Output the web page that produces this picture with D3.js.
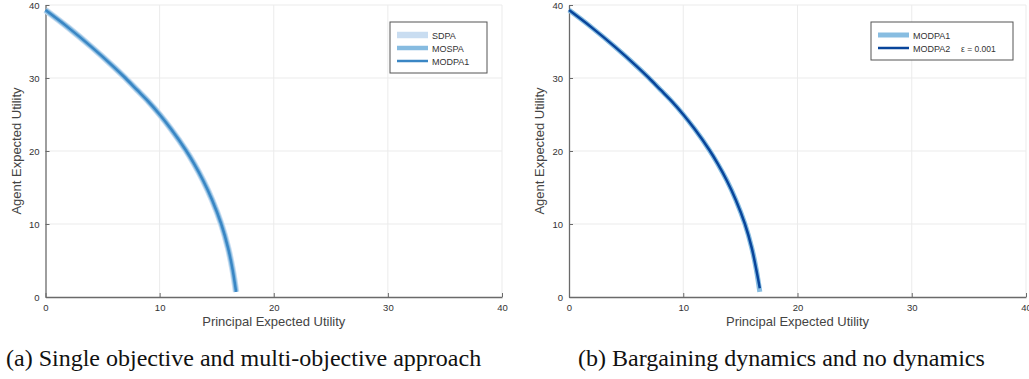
<!DOCTYPE html>
<html>
<head>
<meta charset="utf-8">
<script src="https://cdn.jsdelivr.net/npm/d3@7"></script>
<style>
  body { margin: 0; background: #fff; }
</style>
</head>
<body>
<script>
// curve (principal utility, agent utility)
const curveX = [0, 2, 4, 6, 7, 8, 9, 10, 11, 12.3, 13, 13.8, 14.6, 15.4, 16.0, 16.4, 16.7];
const sdpaY = [39.3, 36.9, 34.3, 31.5, 30.0, 28.4, 26.8, 25.0, 23.0, 20.1, 18.3, 16.0, 13.3, 10.0, 6.7, 3.7, 0.7];
const mospaY = [39.3, 36.9, 34.3, 31.5, 30.0, 28.4, 26.8, 25.0, 23.0, 20.1, 18.3, 16.0, 13.3, 10.0, 6.7, 3.7, 0.7];
const modpa1Y = [39.3, 36.9, 34.3, 31.5, 30.0, 28.4, 26.8, 25.0, 23.0, 20.1, 18.3, 16.0, 13.3, 10.0, 6.7, 3.7, 0.7];
const modpa2Y = [39.3, 36.9, 34.3, 31.5, 30.0, 28.4, 26.8, 25.0, 23.0, 20.1, 18.3, 16.0, 13.3, 10.0, 6.7, 3.7, 1.2];
const tickValues = [0, 10, 20, 30, 40];

const width = 1029;
const height = 379;
const font = "'Liberation Sans', Arial, sans-serif";

const svg = d3.select("body").append("svg")
    .attr("width", width)
    .attr("height", height);

function panel(left, right, series, legend, caption, captionX) {
    const top = 5, bottom = 297;
    const xScale = d3.scaleLinear().domain([0, 40]).range([left, right]);
    const yScale = d3.scaleLinear().domain([0, 40]).range([bottom, top]);
    const g = svg.append("g");

    // grid
    g.selectAll(".vgrid").data(tickValues.slice(1)).join("line")
        .attr("x1", d => xScale(d)).attr("x2", d => xScale(d))
        .attr("y1", top).attr("y2", bottom)
        .attr("stroke", "#ebebeb").attr("stroke-width", 1);
    g.selectAll(".hgrid").data(tickValues.slice(1)).join("line")
        .attr("x1", left).attr("x2", right)
        .attr("y1", d => yScale(d)).attr("y2", d => yScale(d))
        .attr("stroke", "#ebebeb").attr("stroke-width", 1);

    // axes
    const xAxis = g.append("g")
        .attr("transform", "translate(0," + bottom + ")")
        .call(d3.axisBottom(xScale).tickValues(tickValues).tickSizeInner(-4).tickSizeOuter(0).tickPadding(7));
    const yAxis = g.append("g")
        .attr("transform", "translate(" + left + ",0)")
        .call(d3.axisLeft(yScale).tickValues(tickValues).tickSizeInner(-4).tickSizeOuter(0).tickPadding(6));
    [xAxis, yAxis].forEach(a => {
        a.select(".domain").attr("stroke", "#6a6a6a").attr("stroke-width", 1.3);
        a.selectAll(".tick line").attr("stroke", "#6a6a6a").attr("stroke-width", 1);
        a.selectAll("text").attr("font-family", font).attr("font-size", "9.5px").attr("fill", "#333");
    });

    // axis titles
    g.append("text")
        .attr("x", (left + right) / 2).attr("y", 326)
        .attr("text-anchor", "middle")
        .attr("font-family", font).attr("font-size", "13px").attr("fill", "#444")
        .text("Principal Expected Utility");
    g.append("text")
        .attr("transform", "translate(" + (left - 25) + "," + (top + bottom) / 2 + ") rotate(-90)")
        .attr("text-anchor", "middle")
        .attr("font-family", font).attr("font-size", "13px").attr("fill", "#444")
        .text("Agent Expected Utility");

    // curves
    series.forEach(s => {
        const line = d3.line()
            .x((d, i) => xScale(curveX[i]))
            .y(d => yScale(d))
            .curve(d3.curveCatmullRom.alpha(0.5));
        g.append("path")
            .datum(s.values)
            .attr("fill", "none")
            .attr("stroke", s.color)
            .attr("stroke-width", s.width)
            .attr("d", line);
    });

    // legend
    const lg = g.append("g").attr("transform", "translate(" + legend.x + "," + legend.y + ")");
    lg.append("rect")
        .attr("width", legend.w).attr("height", 13 * series.length + 12)
        .attr("fill", "#fff").attr("stroke", "#555").attr("stroke-width", 1);
    series.forEach((s, i) => {
        const yy = 13 + i * 13;
        lg.append("line")
            .attr("x1", 7).attr("x2", 38).attr("y1", yy).attr("y2", yy)
            .attr("stroke", s.color).attr("stroke-width", s.width);
        lg.append("text")
            .attr("x", 42).attr("y", yy + 3.5)
            .attr("font-family", font).attr("font-size", "9px").attr("fill", "#333")
            .text(s.name);
        if (s.note) {
            lg.append("text")
                .attr("x", 90).attr("y", yy + 3.5)
                .attr("font-family", font).attr("font-size", "8.5px").attr("fill", "#333")
                .text(s.note);
        }
    });

    // caption
    svg.append("text")
        .attr("x", captionX).attr("y", 366)
        .attr("font-family", "'Liberation Serif', 'Times New Roman', serif")
        .attr("font-size", "24px").attr("fill", "#111")
        .text(caption);
}

panel(45.5, 502, [
    { name: "SDPA", values: sdpaY, color: "#c9ddf1", width: 6.5 },
    { name: "MOSPA", values: mospaY, color: "#86bbe0", width: 4.5 },
    { name: "MODPA1", values: modpa1Y, color: "#3a86c4", width: 2.5 }
], { x: 390, y: 22, w: 97 }, "(a) Single objective and multi-objective approach", 6);

panel(569, 1026, [
    { name: "MODPA1", values: modpa1Y, color: "#88bde1", width: 5 },
    { name: "MODPA2", values: modpa2Y, color: "#08459b", width: 2.5, note: "\u03b5 = 0.001" }
], { x: 871, y: 22, w: 142 }, "(b) Bargaining dynamics and no dynamics", 578);
</script>
</body>
</html>
